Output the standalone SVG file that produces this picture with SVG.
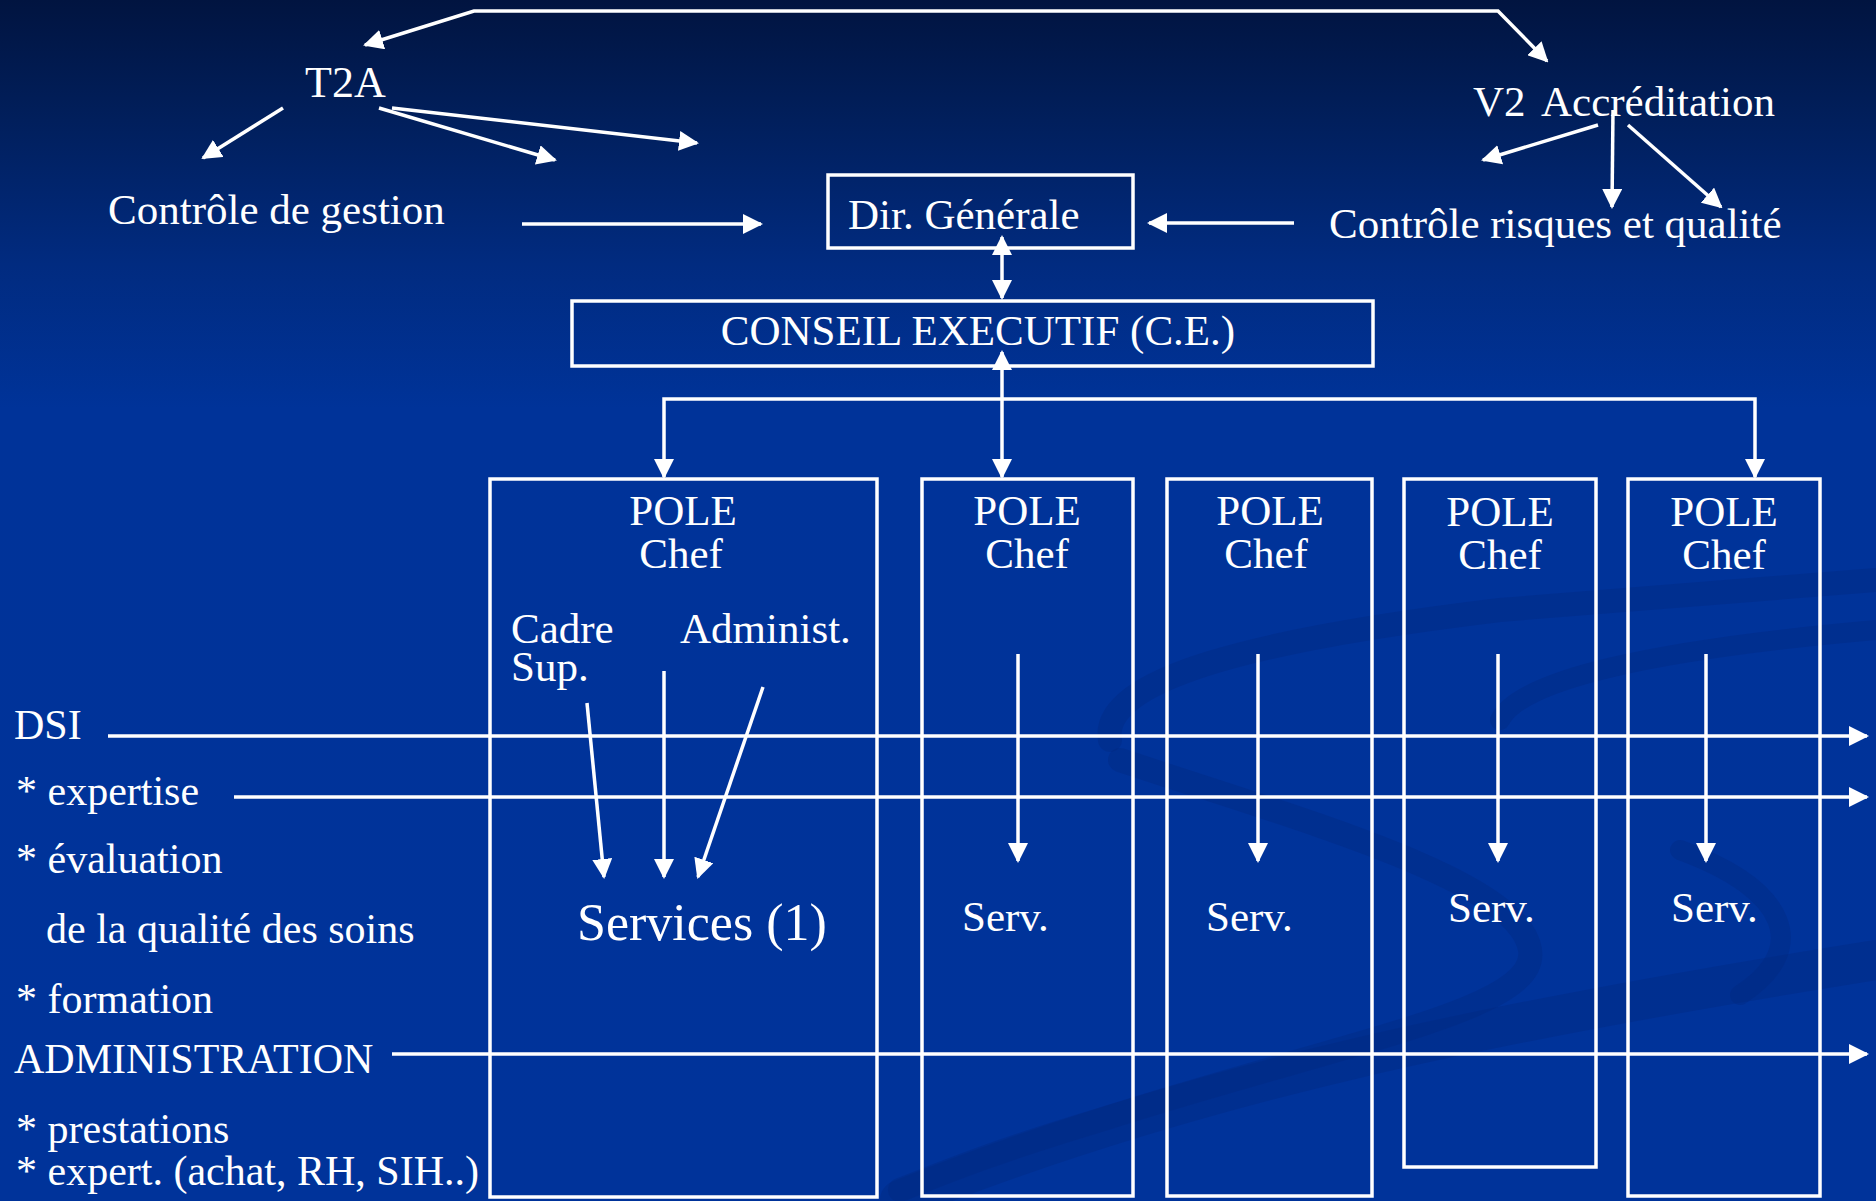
<svg xmlns="http://www.w3.org/2000/svg" width="1876" height="1201" viewBox="0 0 1876 1201">
<defs>
<linearGradient id="bg" x1="0" y1="0" x2="0" y2="1201" gradientUnits="userSpaceOnUse">
<stop offset="0" stop-color="#011440"/>
<stop offset="0.1" stop-color="#011f5c"/>
<stop offset="0.22" stop-color="#012b80"/>
<stop offset="0.34" stop-color="#003399"/>
<stop offset="1" stop-color="#00339a"/>
</linearGradient>
<marker id="ah" viewBox="0 0 20 20" markerWidth="20" markerHeight="20" refX="18" refY="10" orient="auto-start-reverse" markerUnits="userSpaceOnUse">
<path d="M0,0 L20,10 L0,20 z" fill="#ffffff"/>
</marker>
<style>
text{font-family:"Liberation Serif","Times New Roman",serif;fill:#ffffff;font-size:43px}
.l{font-size:42px}
.c{text-anchor:middle}
.box{fill:none;stroke:#ffffff;stroke-width:3.5}
.ln{fill:none;stroke:#ffffff;stroke-width:3.5;marker-end:url(#ah)}
.ln2{fill:none;stroke:#ffffff;stroke-width:3.5;marker-start:url(#ah);marker-end:url(#ah)}
.sw{fill:none;stroke:#00287f;stroke-opacity:0.35;stroke-linecap:round}
</style>
</defs>
<rect x="0" y="0" width="1876" height="1201" fill="url(#bg)"/>
<g id="background-swoosh">
<path class="sw" stroke-width="40" d="M900,1200 C1200,1080 1500,1020 1876,960"/>
<path class="sw" stroke-width="24" d="M1120,760 C1300,820 1520,880 1530,950 C1540,1010 1350,1040 1100,1120 C1000,1150 950,1170 900,1190"/>
<path class="sw" stroke-width="24" d="M1110,740 C1100,680 1250,640 1500,610 L1876,580"/>
<path class="sw" stroke-width="20" d="M1500,720 C1520,680 1650,650 1876,630"/>
<path class="sw" stroke-width="20" d="M1680,850 C1790,890 1810,950 1740,995"/>
</g>
<g id="connectors">
<path class="ln2" d="M365,45 L474,11 L1498,11 L1547,61"/>
<line class="ln" x1="283" y1="108" x2="203" y2="158"/>
<line class="ln" x1="379" y1="108" x2="555" y2="160"/>
<line class="ln" x1="392" y1="108" x2="697" y2="143"/>
<line class="ln" x1="522" y1="224" x2="761" y2="224"/>
<line class="ln" x1="1598" y1="125" x2="1483" y2="160"/>
<line class="ln" x1="1613" y1="110" x2="1612" y2="207"/>
<line class="ln" x1="1628" y1="125" x2="1721" y2="207"/>
<line class="ln" x1="1294" y1="223" x2="1149" y2="223"/>
<line class="ln2" x1="1002" y1="237" x2="1002" y2="298"/>
<line class="ln2" x1="1002" y1="352" x2="1002" y2="477"/>
<path class="ln2" d="M664,477 L664,399 L1755,399 L1755,477"/>
<line class="ln" x1="587" y1="703" x2="604" y2="877"/>
<line class="ln" x1="664" y1="671" x2="664" y2="877"/>
<line class="ln" x1="763" y1="687" x2="698" y2="877"/>
<line class="ln" x1="1018" y1="654" x2="1018" y2="861"/>
<line class="ln" x1="1258" y1="654" x2="1258" y2="861"/>
<line class="ln" x1="1498" y1="654" x2="1498" y2="861"/>
<line class="ln" x1="1706" y1="654" x2="1706" y2="861"/>
<line class="ln" x1="108" y1="736" x2="1867" y2="736"/>
<line class="ln" x1="234" y1="797" x2="1867" y2="797"/>
<line class="ln" x1="392" y1="1054" x2="1867" y2="1054"/>
</g>
<g id="t2a"><text x="305" y="97" style="font-size:44px">T2A</text></g>
<g id="controle-gestion"><text x="108" y="224">Contrôle de gestion</text></g>
<g id="v2-accreditation"><text x="1473" y="116">V2 <tspan x="1541">Accréditation</tspan></text></g>
<g id="controle-risques"><text x="1329" y="238">Contrôle risques et qualité</text></g>
<g id="dir-generale">
<rect class="box" x="828" y="175" width="305" height="73"/>
<text x="848" y="229">Dir. Générale</text>
</g>
<g id="conseil-executif">
<rect class="box" x="572" y="301" width="801" height="65"/>
<text class="c" x="978" y="345">CONSEIL EXECUTIF (C.E.)</text>
</g>
<g id="pole-1">
<rect class="box" x="490" y="479" width="387" height="718"/>
<text class="c" x="683" y="525">POLE</text>
<text class="c" x="681" y="568">Chef</text>
<text x="511" y="643">Cadre</text>
<text x="511" y="681">Sup.</text>
<text x="680" y="643">Administ.</text>
<text x="577" y="940" style="font-size:52px">Services (1)</text>
</g>
<g id="pole-2">
<rect class="box" x="922" y="479" width="211" height="717"/>
<text class="c" x="1027" y="525">POLE</text>
<text class="c" x="1027" y="568">Chef</text>
<text x="962" y="931">Serv.</text>
</g>
<g id="pole-3">
<rect class="box" x="1167" y="479" width="205" height="717"/>
<text class="c" x="1270" y="525">POLE</text>
<text class="c" x="1266" y="568">Chef</text>
<text x="1206" y="931">Serv.</text>
</g>
<g id="pole-4">
<rect class="box" x="1404" y="479" width="192" height="688"/>
<text class="c" x="1500" y="526">POLE</text>
<text class="c" x="1500" y="569">Chef</text>
<text x="1448" y="922">Serv.</text>
</g>
<g id="pole-5">
<rect class="box" x="1628" y="479" width="192" height="717"/>
<text class="c" x="1724" y="526">POLE</text>
<text class="c" x="1724" y="569">Chef</text>
<text x="1671" y="922">Serv.</text>
</g>
<g id="dsi">
<text class="l" x="14" y="739">DSI</text>
<text class="l" x="16" y="805">* expertise</text>
<text class="l" x="16" y="873">* évaluation</text>
<text class="l" x="46" y="943">de la qualité des soins</text>
<text class="l" x="16" y="1013">* formation</text>
</g>
<g id="administration">
<text class="l" x="14" y="1073">ADMINISTRATION</text>
<text class="l" x="16" y="1143">* prestations</text>
<text class="l" x="16" y="1185">* expert. (achat, RH, SIH..)</text>
</g>
</svg>
